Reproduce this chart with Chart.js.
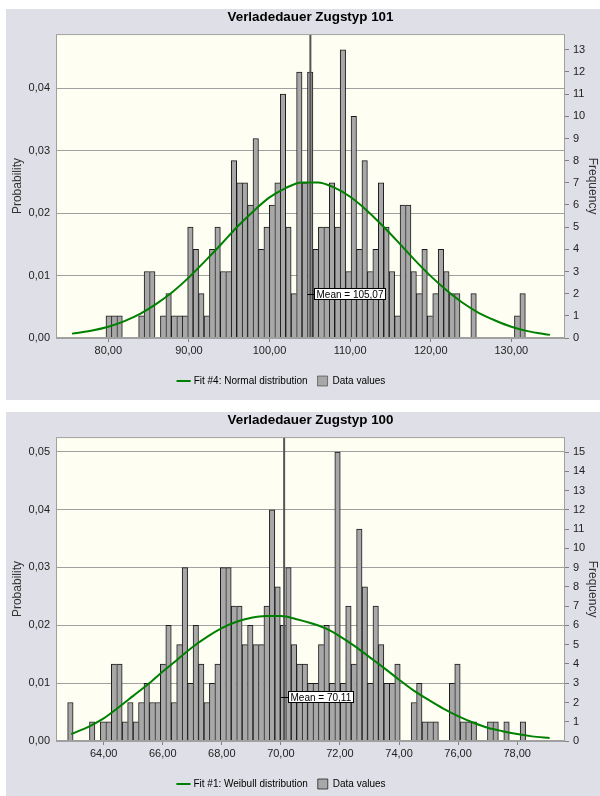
<!DOCTYPE html>
<html>
<head>
<meta charset="utf-8">
<script src="https://cdn.jsdelivr.net/npm/chart.js@4.4.1/dist/chart.umd.min.js"></script>
<style>
html, body { margin: 0; padding: 0; background: #fff; overflow: hidden; width: 600px; height: 796px; }
.panel { position: absolute; left: 6px; width: 594px; height: 391px; background: #dfdfe7; }
.panel canvas { display: block; }
#p101 { top: 9px; }
#p100 { top: 412px; }
</style>
</head>
<body>
<div class="panel" id="p101"><canvas id="chart101" width="594" height="391"></canvas></div>
<div class="panel" id="p100"><canvas id="chart100" width="594" height="391"></canvas></div>
<script>
// Zugstyp 101
var titel101 = 'Verladedauer Zugstyp 101';
var fitLabel101 = 'Fit #4: Normal distribution';
var binStart101 = 79.71;
var binWidth101 = 0.6757;
var counts101 = [1,1,1,0,0,0,1,3,3,0,1,2,1,1,1,5,4,2,1,4,5,3,3,8,7,7,6,9,4,5,6,7,11,5,2,12,7,
                 12,4,5,5,7,5,13,3,10,4,8,3,4,7,5,3,1,6,6,3,2,4,1,2,4,3,2,2,0,0,2,0,0,0,0,0,0,0,1,2];
var fitX101 = [75.5, 78, 80, 82, 84, 86, 88, 90, 92, 94, 96, 98, 100, 102, 104, 106, 108, 110,
               112, 114, 116, 118, 120, 122, 124, 126, 128, 130, 132, 134.8];
var fitY101 = [0.0007, 0.0012, 0.0018, 0.0027, 0.0039, 0.0055, 0.0074, 0.0097, 0.0123, 0.0150,
               0.0178, 0.0203, 0.0225, 0.0240, 0.0249, 0.0249, 0.0241, 0.0226, 0.0205, 0.0180,
               0.0153, 0.0125, 0.0099, 0.0076, 0.0056, 0.0040, 0.0028, 0.0018, 0.0011, 0.0005];
var mean101 = 105.07;
var xTicks101 = [80, 90, 100, 110, 120, 130];
var probTicks101 = [0, 0.01, 0.02, 0.03, 0.04];
var freqTicks101 = [0,1,2,3,4,5,6,7,8,9,10,11,12,13];

// Zugstyp 100
var titel100 = 'Verladedauer Zugstyp 100';
var fitLabel100 = 'Fit #1: Weibull distribution';
var binStart100 = 62.78;
var binWidth100 = 0.1846;
var counts100 = [2,0,0,0,1,0,1,1,4,4,1,2,1,2,3,2,2,4,6,2,5,9,3,6,4,2,3,4,9,9,7,7,5,6,5,5,7,12,8,6,9,
                 5,4,4,3,3,5,6,3,15,3,7,4,11,8,3,7,5,3,3,4,0,0,2,3,1,1,1,0,0,3,4,1,1,1,0,0,1,1,0,1,0,0,1];
var fitX100 = [62.9, 63.5, 64, 64.5, 65, 65.5, 66, 66.5, 67, 67.5, 68, 68.5, 69, 69.5, 70, 70.5,
               71, 71.5, 72, 72.5, 73, 73.5, 74, 74.5, 75, 75.5, 76, 76.5, 77, 77.5, 78, 78.5, 79.1];
var fitY100 = [0.0012, 0.0025, 0.0039, 0.0058, 0.0078, 0.0098, 0.0120, 0.0141, 0.0162, 0.0180,
               0.0195, 0.0206, 0.0213, 0.0216, 0.0216, 0.0211, 0.0204, 0.0195, 0.0181, 0.0164,
               0.0145, 0.0126, 0.0106, 0.0087, 0.0071, 0.0056, 0.0043, 0.0032, 0.0023, 0.0017,
               0.0012, 0.0008, 0.0005];
var mean100 = 70.11;
var xTicks100 = [64, 66, 68, 70, 72, 74, 76, 78];
var probTicks100 = [0, 0.01, 0.02, 0.03, 0.04, 0.05];
var freqTicks100 = [0,1,2,3,4,5,6,7,8,9,10,11,12,13,14,15];

var schrift = "'Liberation Sans', Arial, sans-serif";

function komma(v, d) {
    return Number(v).toFixed(d).replace('.', ',');
}

// Hintergrund, Rahmen und Mittelwert-Beschriftung
var plotFrame = {
    id: 'plotFrame',
    afterLayout: function(chart, args, opts) {
        if (chart.legend && opts.legendShift) {
            chart.legend.left += opts.legendShift;
            chart.legend.right += opts.legendShift;
        }
    },
    beforeDraw: function(chart) {
        var a = chart.chartArea, ctx = chart.ctx;
        ctx.save();
        ctx.fillStyle = '#fefef2';
        ctx.fillRect(a.left, a.top, a.right - a.left, a.bottom - a.top);
        ctx.restore();
    },
    afterDatasetsDraw: function(chart, args, opts) {
        var a = chart.chartArea, ctx = chart.ctx;
        ctx.save();
        ctx.strokeStyle = '#a0a0a0';
        ctx.lineWidth = 1;
        ctx.strokeRect(a.left + 0.5, a.top + 0.5, a.right - a.left - 1, a.bottom - a.top - 1);

        var x = chart.scales.x.getPixelForValue(opts.mean);
        var y = Math.round(chart.scales.yp.getPixelForValue(opts.labelY)) + 0.5;
        var txt = 'Mean = ' + komma(opts.mean, 2);
        ctx.font = '10px ' + schrift;
        var w = Math.round(ctx.measureText(txt).width + 4);
        var bx = Math.round(x) + 4.5, by = y - 6;
        ctx.fillStyle = '#fff';
        ctx.fillRect(bx, by, w, 11);
        ctx.strokeStyle = '#000';
        ctx.strokeRect(bx, by, w, 11);
        ctx.beginPath();
        ctx.moveTo(x - 3, y);
        ctx.lineTo(bx, y);
        ctx.stroke();
        ctx.fillStyle = '#000';
        ctx.textBaseline = 'middle';
        ctx.fillText(txt, bx + 2, y + 0.5);
        ctx.restore();
    }
};

function zeichne(id, d) {
    var bars = d.counts.map(function(c, i) {
        return { x: d.binStart + d.binWidth * (i + 0.5), y: c > 0 ? c : null };
    });
    var fit = d.fitX.map(function(x, i) { return { x: x, y: d.fitY[i] }; });
    var tickFont = { family: schrift, size: 11 };

    var config = {
        type: 'bar',
        data: {
            datasets: [{
                type: 'line',
                label: d.fitLabel,
                data: fit,
                yAxisID: 'yp',
                borderColor: '#008000',
                borderWidth: 2,
                pointRadius: 0,
                cubicInterpolationMode: 'monotone',
                order: 0
            }, {
                type: 'bar',
                label: 'Data values',
                data: bars,
                yAxisID: 'yf',
                backgroundColor: '#a8a8a8',
                borderColor: '#1a1a1a',
                borderWidth: function(c) {
                    var i = c.dataIndex;
                    var naechste = i + 1 < d.counts.length ? d.counts[i + 1] : 0;
                    return { top: 1, left: 1, bottom: 0, right: naechste < d.counts[i] ? 1 : 0 };
                },
                borderSkipped: false,
                barPercentage: 1,
                categoryPercentage: 1,
                order: 2
            }, {
                type: 'line',
                label: 'Mean',
                data: [{ x: d.mean, y: 0 }, { x: d.mean, y: d.probMax }],
                yAxisID: 'yp',
                borderColor: '#555',
                borderWidth: 2,
                pointRadius: 0,
                order: 1
            }]
        },
        options: {
            responsive: false,
            animation: false,
            layout: { padding: { top: 0, left: 0, right: 0, bottom: 4 } },
            scales: {
                x: {
                    type: 'linear',
                    min: d.xMin,
                    max: d.xMax,
                    offset: false,
                    afterBuildTicks: function(s) { s.ticks = d.xTicks.map(function(v) { return { value: v }; }); },
                    afterFit: function(s) { s.height = 28; },
                    grid: { drawOnChartArea: false, drawTicks: true, tickLength: 4, color: '#808080', offset: false },
                    border: { display: false },
                    ticks: {
                        callback: function(v) { return komma(v, 2); },
                        font: tickFont, color: '#222', padding: 2, maxRotation: 0, autoSkip: false
                    }
                },
                yp: {
                    type: 'linear',
                    position: 'left',
                    min: 0,
                    max: d.probMax,
                    afterBuildTicks: function(s) { s.ticks = d.probTicks.map(function(v) { return { value: v }; }); },
                    afterFit: function(s) { s.width = 50; },
                    grid: { color: '#a0a0a0', drawTicks: false },
                    border: { display: false },
                    ticks: {
                        callback: function(v) { return komma(v, 2); },
                        font: tickFont, color: '#222', padding: 6
                    },
                    title: {
                        display: true, text: 'Probability', color: '#333',
                        font: { family: schrift, size: 12 }, padding: { top: 4, bottom: 0 }
                    }
                },
                yf: {
                    type: 'linear',
                    position: 'right',
                    min: 0,
                    max: d.freqMax,
                    afterBuildTicks: function(s) { s.ticks = d.freqTicks.map(function(v) { return { value: v }; }); },
                    afterFit: function(s) { s.width = 35; },
                    grid: { drawOnChartArea: false, drawTicks: true, tickLength: 4, color: '#808080' },
                    border: { display: false },
                    ticks: { font: tickFont, color: '#222', padding: 4, autoSkip: false },
                    title: {
                        display: true, text: 'Frequency', color: '#333',
                        font: { family: schrift, size: 12 }, padding: { top: 0, bottom: 0 }
                    }
                }
            },
            plugins: {
                title: {
                    display: true,
                    fullSize: false,
                    text: d.titel,
                    color: '#000',
                    font: { family: schrift, size: 13.4, weight: 'bold' },
                    padding: { top: 0, bottom: 9 }
                },
                legend: {
                    position: 'bottom',
                    labels: {
                        usePointStyle: true,
                        boxWidth: 10,
                        boxHeight: 10,
                        padding: 10,
                        color: '#000',
                        font: { family: schrift, size: 10 },
                        generateLabels: function(chart) {
                            var items = Chart.defaults.plugins.legend.labels.generateLabels(chart);
                            items.forEach(function(it) { it.pointStyle = it.datasetIndex === 0 ? 'line' : 'rect'; });
                            return items.filter(function(it) { return it.datasetIndex !== 2; });
                        }
                    }
                },
                tooltip: { enabled: false },
                plotFrame: { mean: d.mean, labelY: d.labelY, legendShift: -21 }
            }
        },
        plugins: [plotFrame]
    };

    var ctx = document.getElementById(id).getContext('2d');
    return new Chart(ctx, config);
}

zeichne('chart101', {
    titel: titel101, fitLabel: fitLabel101, binStart: binStart101, binWidth: binWidth101,
    counts: counts101, fitX: fitX101, fitY: fitY101, mean: mean101,
    xTicks: xTicks101, probTicks: probTicks101, freqTicks: freqTicks101,
    xMin: 73.51, xMax: 136.66, probMax: 0.04864, freqMax: 13.71, labelY: 0.0070
});

zeichne('chart100', {
    titel: titel100, fitLabel: fitLabel100, binStart: binStart100, binWidth: binWidth100,
    counts: counts100, fitX: fitX100, fitY: fitY100, mean: mean100,
    xTicks: xTicks100, probTicks: probTicks100, freqTicks: freqTicks100,
    xMin: 62.385, xMax: 79.62, probMax: 0.05253, freqMax: 15.78, labelY: 0.0076
});
</script>
</body>
</html>
